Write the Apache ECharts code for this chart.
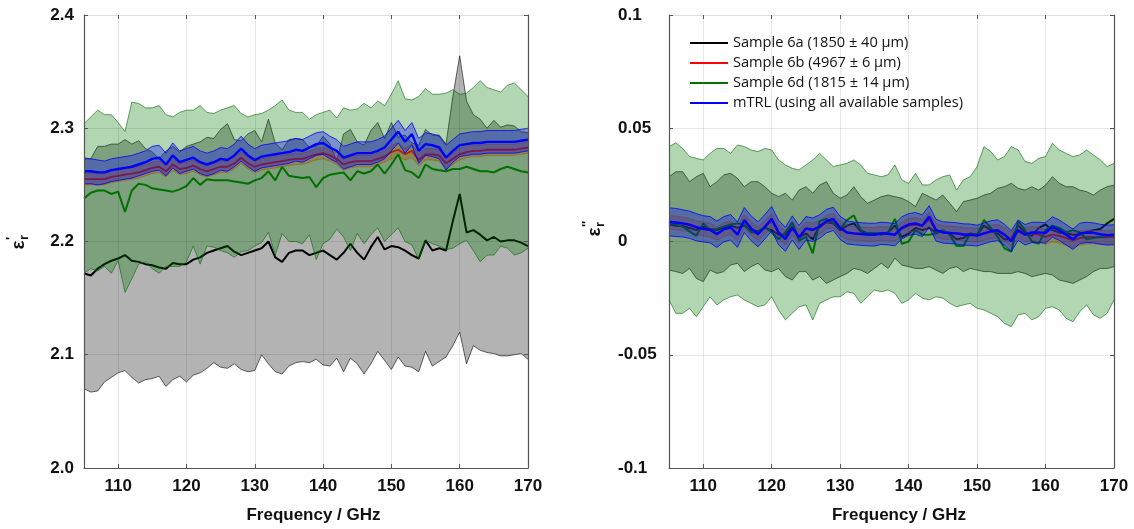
<!DOCTYPE html>
<html>
<head>
<meta charset="utf-8">
<script src="https://cdn.jsdelivr.net/npm/echarts@6/dist/echarts.min.js"></script>
<style>
  html, body { margin: 0; padding: 0; background: #fff; }
  #chart { width: 1134px; height: 529px; }
</style>
</head>
<body>
<div id="chart"></div>
<script>
// Frequency grid (GHz)
const freq = [105,106,107,108,109,110,111,112,113,114,115,116,117,118,119,120,121,122,123,124,125,126,127,128,129,130,131,132,133,134,135,136,137,138,139,140,141,142,143,144,145,146,147,148,149,150,151,152,153,154,155,156,157,158,159,160,161,162,163,164,165,166,167,168,169,170];

// ---- Real part eps'_r : mean values and expanded uncertainty (half width) ----
const re6aMean = [2.172,2.170,2.176,2.180,2.183,2.185,2.188,2.183,2.182,2.180,2.179,2.177,2.176,2.181,2.180,2.180,2.184,2.186,2.190,2.192,2.194,2.196,2.191,2.188,2.190,2.192,2.194,2.200,2.186,2.182,2.190,2.192,2.192,2.188,2.190,2.192,2.188,2.184,2.190,2.198,2.190,2.184,2.195,2.204,2.193,2.196,2.195,2.192,2.188,2.185,2.201,2.192,2.194,2.192,2.218,2.242,2.208,2.210,2.206,2.201,2.204,2.200,2.201,2.201,2.199,2.196];
const re6aUnc = [0.102,0.103,0.108,0.104,0.103,0.101,0.102,0.103,0.107,0.102,0.100,0.096,0.104,0.103,0.099,0.104,0.102,0.102,0.102,0.099,0.105,0.108,0.099,0.101,0.105,0.106,0.094,0.108,0.101,0.099,0.100,0.099,0.098,0.095,0.094,0.101,0.098,0.087,0.105,0.101,0.098,0.101,0.103,0.101,0.098,0.109,0.097,0.102,0.099,0.100,0.098,0.102,0.100,0.094,0.110,0.122,0.116,0.102,0.102,0.099,0.103,0.101,0.102,0.101,0.098,0.100];
const re6bMean = [2.255,2.255,2.255,2.255,2.257,2.258,2.259,2.260,2.261,2.263,2.265,2.266,2.262,2.268,2.264,2.265,2.267,2.264,2.262,2.264,2.266,2.266,2.269,2.274,2.269,2.266,2.268,2.269,2.270,2.271,2.272,2.273,2.273,2.275,2.277,2.278,2.276,2.273,2.268,2.270,2.271,2.271,2.271,2.273,2.275,2.279,2.281,2.277,2.280,2.272,2.277,2.277,2.276,2.269,2.273,2.277,2.279,2.280,2.280,2.281,2.281,2.281,2.281,2.281,2.282,2.283];
const re6bUnc = [0.005,0.005,0.005,0.005,0.005,0.005,0.005,0.005,0.005,0.005,0.005,0.005,0.005,0.005,0.005,0.005,0.005,0.005,0.005,0.005,0.005,0.005,0.005,0.005,0.005,0.005,0.005,0.005,0.005,0.005,0.005,0.005,0.005,0.005,0.005,0.005,0.005,0.005,0.005,0.005,0.005,0.005,0.005,0.005,0.005,0.006,0.006,0.005,0.006,0.005,0.005,0.005,0.005,0.005,0.005,0.005,0.005,0.005,0.005,0.005,0.005,0.005,0.005,0.005,0.005,0.005];
const re6dMean = [2.238,2.243,2.245,2.245,2.242,2.244,2.226,2.245,2.251,2.250,2.247,2.246,2.245,2.244,2.246,2.249,2.256,2.250,2.255,2.254,2.254,2.254,2.253,2.252,2.251,2.254,2.256,2.262,2.254,2.266,2.258,2.257,2.256,2.257,2.248,2.256,2.259,2.260,2.261,2.254,2.262,2.260,2.262,2.268,2.260,2.268,2.277,2.263,2.261,2.256,2.268,2.264,2.263,2.262,2.264,2.264,2.266,2.264,2.262,2.262,2.261,2.264,2.266,2.264,2.262,2.261];
const re6dUnc = [0.066,0.067,0.071,0.067,0.070,0.061,0.071,0.078,0.071,0.068,0.071,0.074,0.067,0.066,0.068,0.067,0.060,0.070,0.059,0.059,0.062,0.064,0.067,0.061,0.059,0.058,0.057,0.054,0.066,0.059,0.058,0.057,0.058,0.051,0.064,0.058,0.057,0.049,0.057,0.062,0.055,0.062,0.056,0.056,0.060,0.062,0.065,0.063,0.064,0.072,0.067,0.066,0.067,0.069,0.070,0.066,0.065,0.072,0.080,0.074,0.073,0.068,0.072,0.076,0.072,0.067];
const reTrlMean = [2.262,2.262,2.261,2.261,2.263,2.264,2.265,2.266,2.268,2.270,2.273,2.274,2.268,2.276,2.270,2.272,2.274,2.270,2.268,2.270,2.273,2.272,2.276,2.282,2.276,2.272,2.275,2.276,2.277,2.278,2.279,2.281,2.280,2.283,2.286,2.287,2.283,2.280,2.274,2.276,2.278,2.278,2.278,2.280,2.283,2.290,2.297,2.288,2.295,2.280,2.286,2.285,2.283,2.274,2.280,2.285,2.286,2.287,2.287,2.288,2.288,2.288,2.288,2.288,2.289,2.290];
const reTrlUnc = [0.011,0.011,0.011,0.010,0.010,0.010,0.010,0.010,0.010,0.010,0.011,0.011,0.010,0.011,0.010,0.010,0.010,0.010,0.010,0.010,0.010,0.010,0.010,0.011,0.010,0.010,0.010,0.010,0.010,0.010,0.010,0.010,0.010,0.010,0.010,0.010,0.010,0.010,0.010,0.010,0.010,0.010,0.010,0.010,0.010,0.010,0.010,0.010,0.010,0.011,0.010,0.010,0.010,0.011,0.010,0.010,0.010,0.010,0.010,0.010,0.010,0.010,0.010,0.010,0.010,0.010];

// ---- Imaginary part eps''_r ----
const im6aMean = [0.0075,0.0070,0.0068,0.0060,0.0050,0.0065,0.0055,0.0050,0.0060,0.0070,0.0060,0.0070,0.0050,0.0045,0.0060,0.0050,0.0030,0.0030,0.0065,0.0020,0.0035,0.0010,0.0070,0.0085,0.0080,0.0050,0.0070,0.0080,0.0045,0.0035,0.0035,0.0035,0.0040,0.0070,0.0020,0.0035,0.0060,0.0050,0.0060,0.0040,0.0045,0.0035,0.0010,0.0015,0.0035,0.0030,0.0070,0.0050,0.0035,0.0010,0.0010,0.0070,0.0040,0.0025,0.0060,0.0075,0.0050,0.0040,0.0035,0.0030,0.0030,0.0040,0.0050,0.0055,0.0080,0.0100];
const im6aLow = [-0.0126,-0.0133,-0.0141,-0.0119,-0.0163,-0.0177,-0.0126,-0.0141,-0.0133,-0.0104,-0.0096,-0.0133,-0.0111,-0.0096,-0.0126,-0.0133,-0.0119,-0.0155,-0.0170,-0.0133,-0.0133,-0.0170,-0.0155,-0.0185,-0.0170,-0.0155,-0.0141,-0.0119,-0.0126,-0.0141,-0.0119,-0.0096,-0.0119,-0.0074,-0.0104,-0.0111,-0.0119,-0.0119,-0.0111,-0.0126,-0.0141,-0.0119,-0.0111,-0.0133,-0.0119,-0.0126,-0.0133,-0.0133,-0.0141,-0.0141,-0.0141,-0.0133,-0.0141,-0.0155,-0.0148,-0.0141,-0.0148,-0.0170,-0.0177,-0.0185,-0.0170,-0.0155,-0.0133,-0.0119,-0.0119,-0.0111];
const im6aHigh = [0.0286,0.0308,0.0308,0.0264,0.0286,0.0301,0.0242,0.0264,0.0294,0.0301,0.0279,0.0242,0.0264,0.0264,0.0242,0.0213,0.0198,0.0213,0.0183,0.0227,0.0242,0.0213,0.0249,0.0264,0.0213,0.0191,0.0205,0.0242,0.0198,0.0169,0.0183,0.0198,0.0205,0.0198,0.0191,0.0176,0.0154,0.0213,0.0198,0.0183,0.0205,0.0169,0.0132,0.0176,0.0183,0.0191,0.0205,0.0213,0.0235,0.0242,0.0257,0.0235,0.0227,0.0242,0.0227,0.0249,0.0286,0.0257,0.0242,0.0242,0.0227,0.0220,0.0205,0.0227,0.0242,0.0249];
const im6bMean = [0.0085,0.0082,0.0078,0.0072,0.0062,0.0055,0.0050,0.0035,0.0052,0.0060,0.0035,0.0088,0.0056,0.0035,0.0062,0.0093,0.0042,0.0015,0.0058,0.0022,0.0055,0.0050,0.0062,0.0085,0.0092,0.0058,0.0040,0.0036,0.0034,0.0032,0.0031,0.0035,0.0034,0.0031,0.0056,0.0070,0.0075,0.0068,0.0098,0.0050,0.0040,0.0038,0.0036,0.0032,0.0030,0.0028,0.0035,0.0042,0.0045,0.0030,0.0010,0.0045,0.0030,0.0035,0.0030,0.0020,0.0030,0.0025,0.0015,0.0005,0.0015,0.0020,0.0020,0.0018,0.0018,0.0020];
const im6bUnc = [0.0030,0.0030,0.0030,0.0030,0.0030,0.0030,0.0030,0.0030,0.0030,0.0030,0.0030,0.0030,0.0030,0.0030,0.0030,0.0030,0.0030,0.0030,0.0030,0.0030,0.0030,0.0030,0.0030,0.0030,0.0030,0.0030,0.0030,0.0030,0.0030,0.0030,0.0030,0.0030,0.0030,0.0030,0.0030,0.0030,0.0030,0.0030,0.0030,0.0030,0.0030,0.0030,0.0030,0.0030,0.0030,0.0030,0.0030,0.0030,0.0030,0.0030,0.0030,0.0030,0.0030,0.0030,0.0032,0.0032,0.0032,0.0032,0.0032,0.0032,0.0032,0.0030,0.0030,0.0030,0.0030,0.0030];
const im6dMean = [0.0080,0.0075,0.0065,0.0045,0.0025,0.0080,0.0050,0.0055,0.0065,0.0075,0.0080,0.0075,0.0040,0.0040,0.0065,0.0040,0.0010,0.0040,0.0085,0.0005,0.0020,-0.0052,0.0090,0.0100,0.0080,0.0055,0.0095,0.0115,0.0050,0.0036,0.0036,0.0030,0.0040,0.0100,-0.0010,0.0000,0.0050,0.0030,0.0030,0.0035,0.0050,0.0030,-0.0020,-0.0020,0.0035,0.0025,0.0095,0.0060,0.0020,-0.0030,-0.0045,0.0090,0.0050,0.0000,-0.0010,0.0050,0.0070,0.0060,0.0040,0.0050,0.0040,0.0010,0.0015,0.0020,0.0025,0.0025];
const im6dLow = [-0.0258,-0.0317,-0.0317,-0.0295,-0.0332,-0.0288,-0.0244,-0.0280,-0.0258,-0.0244,-0.0236,-0.0258,-0.0273,-0.0288,-0.0280,-0.0244,-0.0302,-0.0346,-0.0317,-0.0288,-0.0280,-0.0346,-0.0273,-0.0258,-0.0244,-0.0244,-0.0222,-0.0229,-0.0273,-0.0244,-0.0214,-0.0222,-0.0214,-0.0229,-0.0273,-0.0258,-0.0229,-0.0250,-0.0258,-0.0244,-0.0250,-0.0273,-0.0288,-0.0280,-0.0273,-0.0295,-0.0302,-0.0317,-0.0332,-0.0361,-0.0376,-0.0324,-0.0317,-0.0346,-0.0332,-0.0295,-0.0288,-0.0302,-0.0339,-0.0354,-0.0310,-0.0280,-0.0324,-0.0339,-0.0317,-0.0258];
const im6dHigh = [0.0419,0.0436,0.0411,0.0375,0.0367,0.0360,0.0389,0.0411,0.0411,0.0389,0.0426,0.0419,0.0404,0.0397,0.0411,0.0404,0.0360,0.0338,0.0323,0.0316,0.0338,0.0360,0.0389,0.0360,0.0331,0.0338,0.0345,0.0360,0.0338,0.0301,0.0294,0.0286,0.0294,0.0338,0.0272,0.0257,0.0301,0.0250,0.0250,0.0272,0.0286,0.0294,0.0227,0.0272,0.0286,0.0331,0.0419,0.0397,0.0360,0.0375,0.0419,0.0404,0.0353,0.0345,0.0367,0.0375,0.0434,0.0404,0.0389,0.0375,0.0382,0.0404,0.0382,0.0360,0.0331,0.0345];
const imTrlMean = [0.0087,0.0084,0.0080,0.0074,0.0063,0.0056,0.0052,0.0032,0.0054,0.0063,0.0030,0.0095,0.0058,0.0032,0.0065,0.0100,0.0040,0.0010,0.0060,0.0018,0.0058,0.0052,0.0066,0.0090,0.0100,0.0060,0.0040,0.0036,0.0033,0.0031,0.0030,0.0036,0.0034,0.0030,0.0060,0.0075,0.0080,0.0070,0.0110,0.0050,0.0040,0.0038,0.0036,0.0031,0.0030,0.0026,0.0036,0.0045,0.0050,0.0030,0.0002,0.0050,0.0030,0.0040,0.0040,0.0038,0.0064,0.0050,0.0030,0.0010,0.0036,0.0040,0.0038,0.0032,0.0028,0.0030];
const imTrlUnc = [0.0062,0.0062,0.0060,0.0060,0.0060,0.0058,0.0058,0.0058,0.0056,0.0056,0.0056,0.0055,0.0055,0.0055,0.0054,0.0054,0.0054,0.0053,0.0053,0.0053,0.0052,0.0052,0.0052,0.0052,0.0051,0.0051,0.0051,0.0050,0.0050,0.0050,0.0050,0.0049,0.0049,0.0049,0.0049,0.0048,0.0048,0.0048,0.0048,0.0048,0.0047,0.0047,0.0047,0.0047,0.0047,0.0046,0.0046,0.0046,0.0046,0.0046,0.0046,0.0045,0.0045,0.0045,0.0045,0.0045,0.0045,0.0045,0.0045,0.0045,0.0045,0.0045,0.0044,0.0044,0.0044,0.0044];

// Axis ranges and legend entries
const reRange = [2.0, 2.4];
const imRange = [-0.1, 0.1];
const freqRange = [105, 170];
const legendNames = [
  'Sample 6a (1850 \u00b1 40 \u03bcm)',
  'Sample 6b (4967 \u00b1 6 \u03bcm)',
  'Sample 6d (1815 \u00b1 14 \u03bcm)',
  'mTRL (using all available samples)'
];

// ---- styling ----
const STYLE = [
  { line: '#000000', lineW: 2,   fill: 'rgba(128,128,128,0.6)', edge: '#000000', edgeW: 0.6 },
  { line: '#ff0000', lineW: 1.8, fill: 'rgba(255,60,0,0.3)',    edge: '#e05000', edgeW: 0.6 },
  { line: '#007000', lineW: 2,   fill: 'rgba(0,120,0,0.3)',     edge: '#006400', edgeW: 0.6 },
  { line: '#0000ff', lineW: 2.4, fill: 'rgba(0,0,255,0.32)',    edge: '#0000ff', edgeW: 0.8 }
];
const tickFont = { fontFamily: 'Liberation Sans', fontWeight: 'bold', fontSize: 17, color: '#111' };

const lowFrom = (m, u) => m.map((v, i) => v - u[i]);
const highFrom = (m, u) => m.map((v, i) => v + u[i]);

// uncertainty band drawn as one filled polygon with thin outlines
function band(ax, lo, hi, st) {
  return {
    type: 'custom', xAxisIndex: ax, yAxisIndex: ax, silent: true,
    data: freq.map((f, i) => [f, lo[i], hi[i]]),
    encode: { x: 0, y: [1, 2] },
    renderItem: function (params, api) {
      if (params.dataIndex !== 0) return null;
      const top = freq.map((f, i) => api.coord([f, hi[i]]));
      const bot = freq.map((f, i) => api.coord([f, lo[i]]));
      return {
        type: 'group',
        children: [
          { type: 'polygon', shape: { points: top.concat(bot.slice().reverse()) }, style: { fill: st.fill, stroke: null } },
          { type: 'polyline', shape: { points: top }, style: { fill: null, stroke: st.edge, lineWidth: st.edgeW } },
          { type: 'polyline', shape: { points: bot }, style: { fill: null, stroke: st.edge, lineWidth: st.edgeW } }
        ]
      };
    }
  };
}
function meanLine(ax, name, mean, st) {
  return {
    type: 'line', name: name, xAxisIndex: ax, yAxisIndex: ax, silent: true,
    data: freq.map((f, i) => [f, mean[i]]),
    showSymbol: false, symbol: 'none',
    lineStyle: { color: st.line, width: st.lineW },
    itemStyle: { color: st.line },
    emphasis: { disabled: true }
  };
}

const AXIS_Z = 60;
function xAxes(grid) {
  return [
    {
      type: 'value', gridIndex: grid, position: 'bottom', min: freqRange[0], max: freqRange[1], z: AXIS_Z,
      name: 'Frequency / GHz', nameLocation: 'middle', nameGap: 39,
      nameTextStyle: Object.assign({ padding: [0, 0, 0, 15] }, tickFont),
      axisLine: { show: true, onZero: false, lineStyle: { color: '#555', width: 1.2 } },
      axisTick: { show: true, inside: true, length: 4, lineStyle: { color: '#555' } },
      axisLabel: Object.assign({ showMinLabel: false, margin: 10 }, tickFont),
      splitLine: { show: true, lineStyle: { color: 'rgba(0,0,0,0.09)', width: 1 } }
    },
    {
      type: 'value', gridIndex: grid, position: 'top', min: freqRange[0], max: freqRange[1], z: AXIS_Z,
      axisLine: { show: true, onZero: false, lineStyle: { color: '#dddddd', width: 1 } },
      axisTick: { show: true, inside: true, length: 4, lineStyle: { color: '#555' } },
      axisLabel: { show: false },
      splitLine: { show: false }
    }
  ];
}
function yAxes(grid, range, interval, labelCfg) {
  return [
    {
      type: 'value', gridIndex: grid, position: 'left', min: range[0], max: range[1], interval: interval, z: AXIS_Z,
      axisLine: { show: true, onZero: false, lineStyle: { color: '#555', width: 1.2 } },
      axisTick: { show: true, inside: true, length: 4, lineStyle: { color: '#555' } },
      axisLabel: Object.assign({}, tickFont, labelCfg),
      splitLine: { show: true, lineStyle: { color: 'rgba(0,0,0,0.09)', width: 1 } }
    },
    {
      type: 'value', gridIndex: grid, position: 'right', min: range[0], max: range[1], interval: interval, z: AXIS_Z,
      axisLine: { show: true, onZero: false, lineStyle: { color: '#555', width: 1.2 } },
      axisTick: { show: true, inside: true, length: 4, lineStyle: { color: '#555' } },
      axisLabel: { show: false },
      splitLine: { show: false }
    }
  ];
}

// xAxis/yAxis indices: left panel 0 (bottom/left) & 1 (top/right), right panel 2 & 3
const xs = xAxes(0).concat(xAxes(1));
const ys = yAxes(0, reRange, 0.1, { margin: 10, formatter: v => v.toFixed(1) })
  .concat(yAxes(1, imRange, 0.05, { margin: 51, align: 'left', formatter: v => String(+v.toFixed(2)) }));

const series = [
  // real part
  band(0, lowFrom(re6aMean, re6aUnc), highFrom(re6aMean, re6aUnc), STYLE[0]),
  meanLine(0, legendNames[0], re6aMean, STYLE[0]),
  band(0, lowFrom(re6bMean, re6bUnc), highFrom(re6bMean, re6bUnc), STYLE[1]),
  meanLine(0, legendNames[1], re6bMean, STYLE[1]),
  band(0, lowFrom(re6dMean, re6dUnc), highFrom(re6dMean, re6dUnc), STYLE[2]),
  meanLine(0, legendNames[2], re6dMean, STYLE[2]),
  band(0, lowFrom(reTrlMean, reTrlUnc), highFrom(reTrlMean, reTrlUnc), STYLE[3]),
  meanLine(0, legendNames[3], reTrlMean, STYLE[3]),
  // imaginary part
  band(2, im6aLow, im6aHigh, STYLE[0]),
  meanLine(2, legendNames[0], im6aMean, STYLE[0]),
  band(2, lowFrom(im6bMean, im6bUnc), highFrom(im6bMean, im6bUnc), STYLE[1]),
  meanLine(2, legendNames[1], im6bMean, STYLE[1]),
  band(2, im6dLow, im6dHigh, STYLE[2]),
  meanLine(2, legendNames[2], im6dMean, STYLE[2]),
  band(2, lowFrom(imTrlMean, imTrlUnc), highFrom(imTrlMean, imTrlUnc), STYLE[3]),
  meanLine(2, legendNames[3], imTrlMean, STYLE[3])
];
// stacking order follows the list: each sample's band, then its mean line
series.forEach((s, i) => { s.z = 2 + (i % 8) * 2; });

function epsLabel(x, y, primes) {
  const f = '"Liberation Sans", Arial, sans-serif';
  return {
    type: 'group', x: x, y: y, rotation: Math.PI / 2, silent: true,
    children: [
      { type: 'text', x: 0, y: 0, style: { text: '\u03b5', font: 'bold 19px ' + f, fill: '#111', align: 'center', verticalAlign: 'middle', textAlign: 'center', textVerticalAlign: 'middle' } },
      { type: 'text', x: 5, y: 5, style: { text: 'r', font: 'bold 13px ' + f, fill: '#111', align: 'left', verticalAlign: 'middle', textAlign: 'left', textVerticalAlign: 'middle' } },
      { type: 'text', x: 5, y: -8, style: { text: primes, font: 'bold 13px ' + f, fill: '#111', align: 'left', verticalAlign: 'middle', textAlign: 'left', textVerticalAlign: 'middle' } }
    ]
  };
}

const chart = echarts.init(document.getElementById('chart'), null, { renderer: 'canvas' });
chart.setOption({
  animation: false,
  backgroundColor: '#ffffff',
  grid: [
    { left: 84, top: 15, width: 444, height: 453 },
    { left: 669, top: 15, width: 445, height: 453 }
  ],
  xAxis: xs,
  yAxis: ys,
  legend: {
    data: legendNames,
    orient: 'vertical', left: 690, top: 35, padding: 0, z: 80,
    icon: 'rect', itemWidth: 38, itemHeight: 2, itemGap: 4,
    selectedMode: false,
    textStyle: { fontFamily: 'Open Sans', fontSize: 14.6, color: '#111', lineHeight: 16 }
  },
  graphic: [ epsLabel(19, 245, "'"), epsLabel(595, 232, "''") ],
  series: series
});
</script>
</body>
</html>
